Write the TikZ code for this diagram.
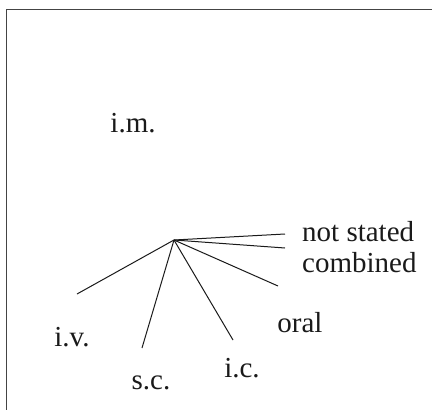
\documentclass[tikz,border=0pt]{standalone}
\usepackage{fontspec}
\setmainfont{Liberation Serif}
\usepackage{tikz}
\definecolor{inkgray}{HTML}{1A1A1A}
\definecolor{framegray}{HTML}{444444}

\tikzset{
  routelabel/.style={inner sep=0pt, text=inkgray, font=\fontsize{29}{32}\selectfont},
  spoke/.style={draw=inkgray, line width=1pt},
}

\begin{document}
\begin{tikzpicture}[x=1pt, y=-1pt]
\useasboundingbox (0,0) rectangle (432,410);
% frame
\draw[framegray, line width=1pt] (6,410) -- (6,9) -- (432,9);

% labels
\node[routelabel] (im) at (133,123) {i.m.};
\node[routelabel, anchor=west] (notstated) at (302,232) {not stated};
\node[routelabel, anchor=west] (combined) at (302,263) {combined};
\node[routelabel] (oral) at (300,323) {oral};
\node[routelabel] (ic) at (242,368) {i.c.};
\node[routelabel] (sc) at (151,383) {s.c.};
\node[routelabel] (iv) at (72,337) {i.v.};

% spokes
\coordinate (hub) at (174,240);
\coordinate (endns) at (285,234);
\coordinate (endcomb) at (285,248);
\coordinate (endoral) at (278,286);
\coordinate (endic) at (233,340);
\coordinate (endsc) at (142,348);
\coordinate (endiv) at (77,294);
\foreach \e in {endns,endcomb,endoral,endic,endsc,endiv}
  \draw[spoke] (hub) -- (\e);
\end{tikzpicture}
\end{document}
